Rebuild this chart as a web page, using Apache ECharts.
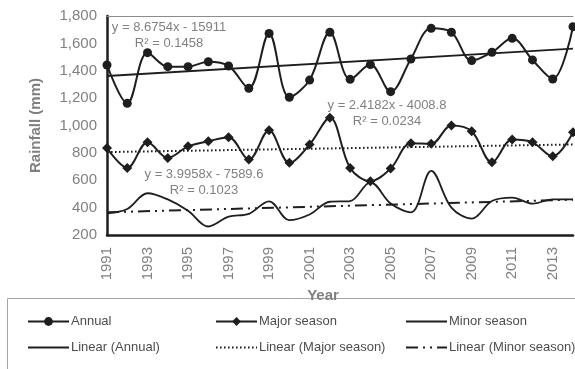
<!DOCTYPE html>
<html>
<head>
<meta charset="utf-8">
<script src="https://cdn.jsdelivr.net/npm/echarts@6/dist/echarts.min.js"></script>
<style>
  html, body { margin: 0; padding: 0; background: #fff; }
  #chart { width: 575px; height: 369px; }
</style>
</head>
<body>
<div id="chart"></div>
<script>
// Rainfall records, 1991-2014
const years = ['1991','1992','1993','1994','1995','1996','1997','1998','1999','2000','2001','2002',
               '2003','2004','2005','2006','2007','2008','2009','2010','2011','2012','2013','2014'];
const annual = [1442, 1162, 1532, 1430, 1430, 1466, 1435, 1272, 1673, 1206, 1332, 1681,
                1337, 1445, 1247, 1486, 1710, 1681, 1474, 1535, 1637, 1479, 1340, 1722];
const majorSeason = [836, 690, 877, 763, 848, 885, 914, 751, 965, 727, 861, 1056,
                     690, 593, 685, 870, 866, 1000, 958, 731, 897, 877, 775, 950];
const minorSeason = [358, 390, 505, 460, 378, 262, 334, 355, 446, 308, 350, 443,
                     448, 585, 430, 366, 668, 400, 320, 448, 473, 429, 461, 461];

// Linear trend coefficients (slope, intercept, R²) for each series
const trendNames = ['Linear (Annual)', 'Linear (Major season)', 'Linear (Minor season)'];
const trendSlope = [8.6754, 2.4182, 3.9958];
const trendIntercept = [-15911, -4008.8, -7589.6];
const trendR2 = ['0.1458', '0.0234', '0.1023'];

const yTicks = [200, 400, 600, 800, 1000, 1200, 1400, 1600, 1800];

const INK = '#1e1e1e';
const GREY = '#808080';
const FONT = 'Liberation Sans, Arial, sans-serif';

// trend line: only the two end points, joined straight
function trendData(i) {
  const d = years.map(() => null);
  const first = +years[0], last = +years[years.length - 1];
  d[0] = trendSlope[i] * first + trendIntercept[i];
  d[years.length - 1] = trendSlope[i] * last + trendIntercept[i];
  return d;
}
function eqText(i) {
  const sign = trendIntercept[i] < 0 ? ' - ' : ' + ';
  return 'y = ' + trendSlope[i] + 'x' + sign + Math.abs(trendIntercept[i]) + '\nR² = ' + trendR2[i];
}

const chart = echarts.init(document.getElementById('chart'), null, { renderer: 'canvas' });

// one legend block per entry so the entries sit in a fixed 3 x 2 layout;
// entries for marker-less series hide the legend marker
function legendItem(name, left, top, plain) {
  const lg = {
    data: [name], left: left, top: top, orient: 'horizontal',
    itemWidth: 41, itemHeight: 11, itemGap: 0, padding: 0,
    selectedMode: false,
    textStyle: { color: '#4d4d4d', fontSize: 13, fontFamily: FONT, padding: [0, 0, 0, -3] }
  };
  if (plain) lg.itemStyle = { opacity: 0 };
  return lg;
}

const eqPos = [[169, 19], [387, 97], [204, 166]];

chart.setOption({
  animation: false,
  backgroundColor: '#fff',
  grid: { left: 107, right: 2, top: 16, bottom: 134, containLabel: false },
  xAxis: [{
    type: 'category', data: years, boundaryGap: false,
    axisLine: { lineStyle: { color: INK, width: 2.5 } },
    axisTick: { show: false },
    axisLabel: { interval: 1, rotate: 90, margin: 12, color: GREY, fontSize: 15, fontFamily: FONT },
    name: 'Year', nameLocation: 'middle', nameGap: 49,
    nameTextStyle: { color: GREY, fontSize: 15, fontWeight: 'bold', fontFamily: FONT, padding: [0, 34, 0, 0] }
  }, {
    type: 'category', data: years, boundaryGap: false, position: 'top',
    axisLine: { lineStyle: { color: '#8c8c8c', width: 1.2 } },
    axisTick: { show: false }, axisLabel: { show: false }
  }],
  yAxis: {
    type: 'value', min: yTicks[0], max: yTicks[yTicks.length - 1], interval: 200,
    axisLine: { show: true, lineStyle: { color: INK, width: 2.5 } },
    axisTick: { show: false },
    splitLine: { show: false },
    axisLabel: {
      margin: 10, color: GREY, fontSize: 15, fontFamily: FONT,
      formatter: v => v.toLocaleString('en-US')
    },
    name: 'Rainfall (mm)', nameLocation: 'middle', nameGap: 64,
    nameTextStyle: { color: GREY, fontSize: 15, fontWeight: 'bold', fontFamily: FONT }
  },
  legend: [
    legendItem('Annual', 27, 315, false),
    legendItem('Major season', 215, 315, false),
    legendItem('Minor season', 405, 315, true),
    legendItem(trendNames[0], 27, 341, true),
    legendItem(trendNames[1], 215, 341, true),
    legendItem(trendNames[2], 405, 341, true)
  ],
  graphic: [
    { type: 'rect', silent: true, z: -1,
      shape: { x: 7.5, y: 298.5, width: 600, height: 100 },
      style: { fill: 'none', stroke: '#a6a6a6', lineWidth: 1 } }
  ].concat(eqPos.map((p, i) => ({
    type: 'text', silent: true, x: p[0], y: p[1],
    style: { text: eqText(i), fill: GREY, font: '13px ' + FONT, align: 'center', lineHeight: 16 }
  }))),
  series: [
    { name: 'Annual', type: 'line', data: annual, smooth: 0.35,
      symbol: 'circle', symbolSize: 9, showAllSymbol: true,
      lineStyle: { color: INK, width: 2 }, itemStyle: { color: INK } },
    { name: 'Major season', type: 'line', data: majorSeason, smooth: 0.35,
      symbol: 'diamond', symbolSize: 10, showAllSymbol: true,
      lineStyle: { color: INK, width: 2 }, itemStyle: { color: INK } },
    { name: 'Minor season', type: 'line', data: minorSeason, smooth: 0.35,
      symbol: 'none',
      lineStyle: { color: INK, width: 1.8 }, itemStyle: { color: INK } },
    { name: trendNames[0], type: 'line', data: trendData(0), connectNulls: true,
      symbol: 'none', lineStyle: { color: INK, width: 1.8 }, itemStyle: { color: INK } },
    { name: trendNames[1], type: 'line', data: trendData(1), connectNulls: true,
      symbol: 'none', lineStyle: { color: INK, width: 2, type: [1.6, 2.4] }, itemStyle: { color: INK } },
    { name: trendNames[2], type: 'line', data: trendData(2), connectNulls: true,
      symbol: 'none', lineStyle: { color: INK, width: 2, type: [12, 5, 2, 5, 2, 5] }, itemStyle: { color: INK } }
  ]
});
</script>
</body>
</html>
